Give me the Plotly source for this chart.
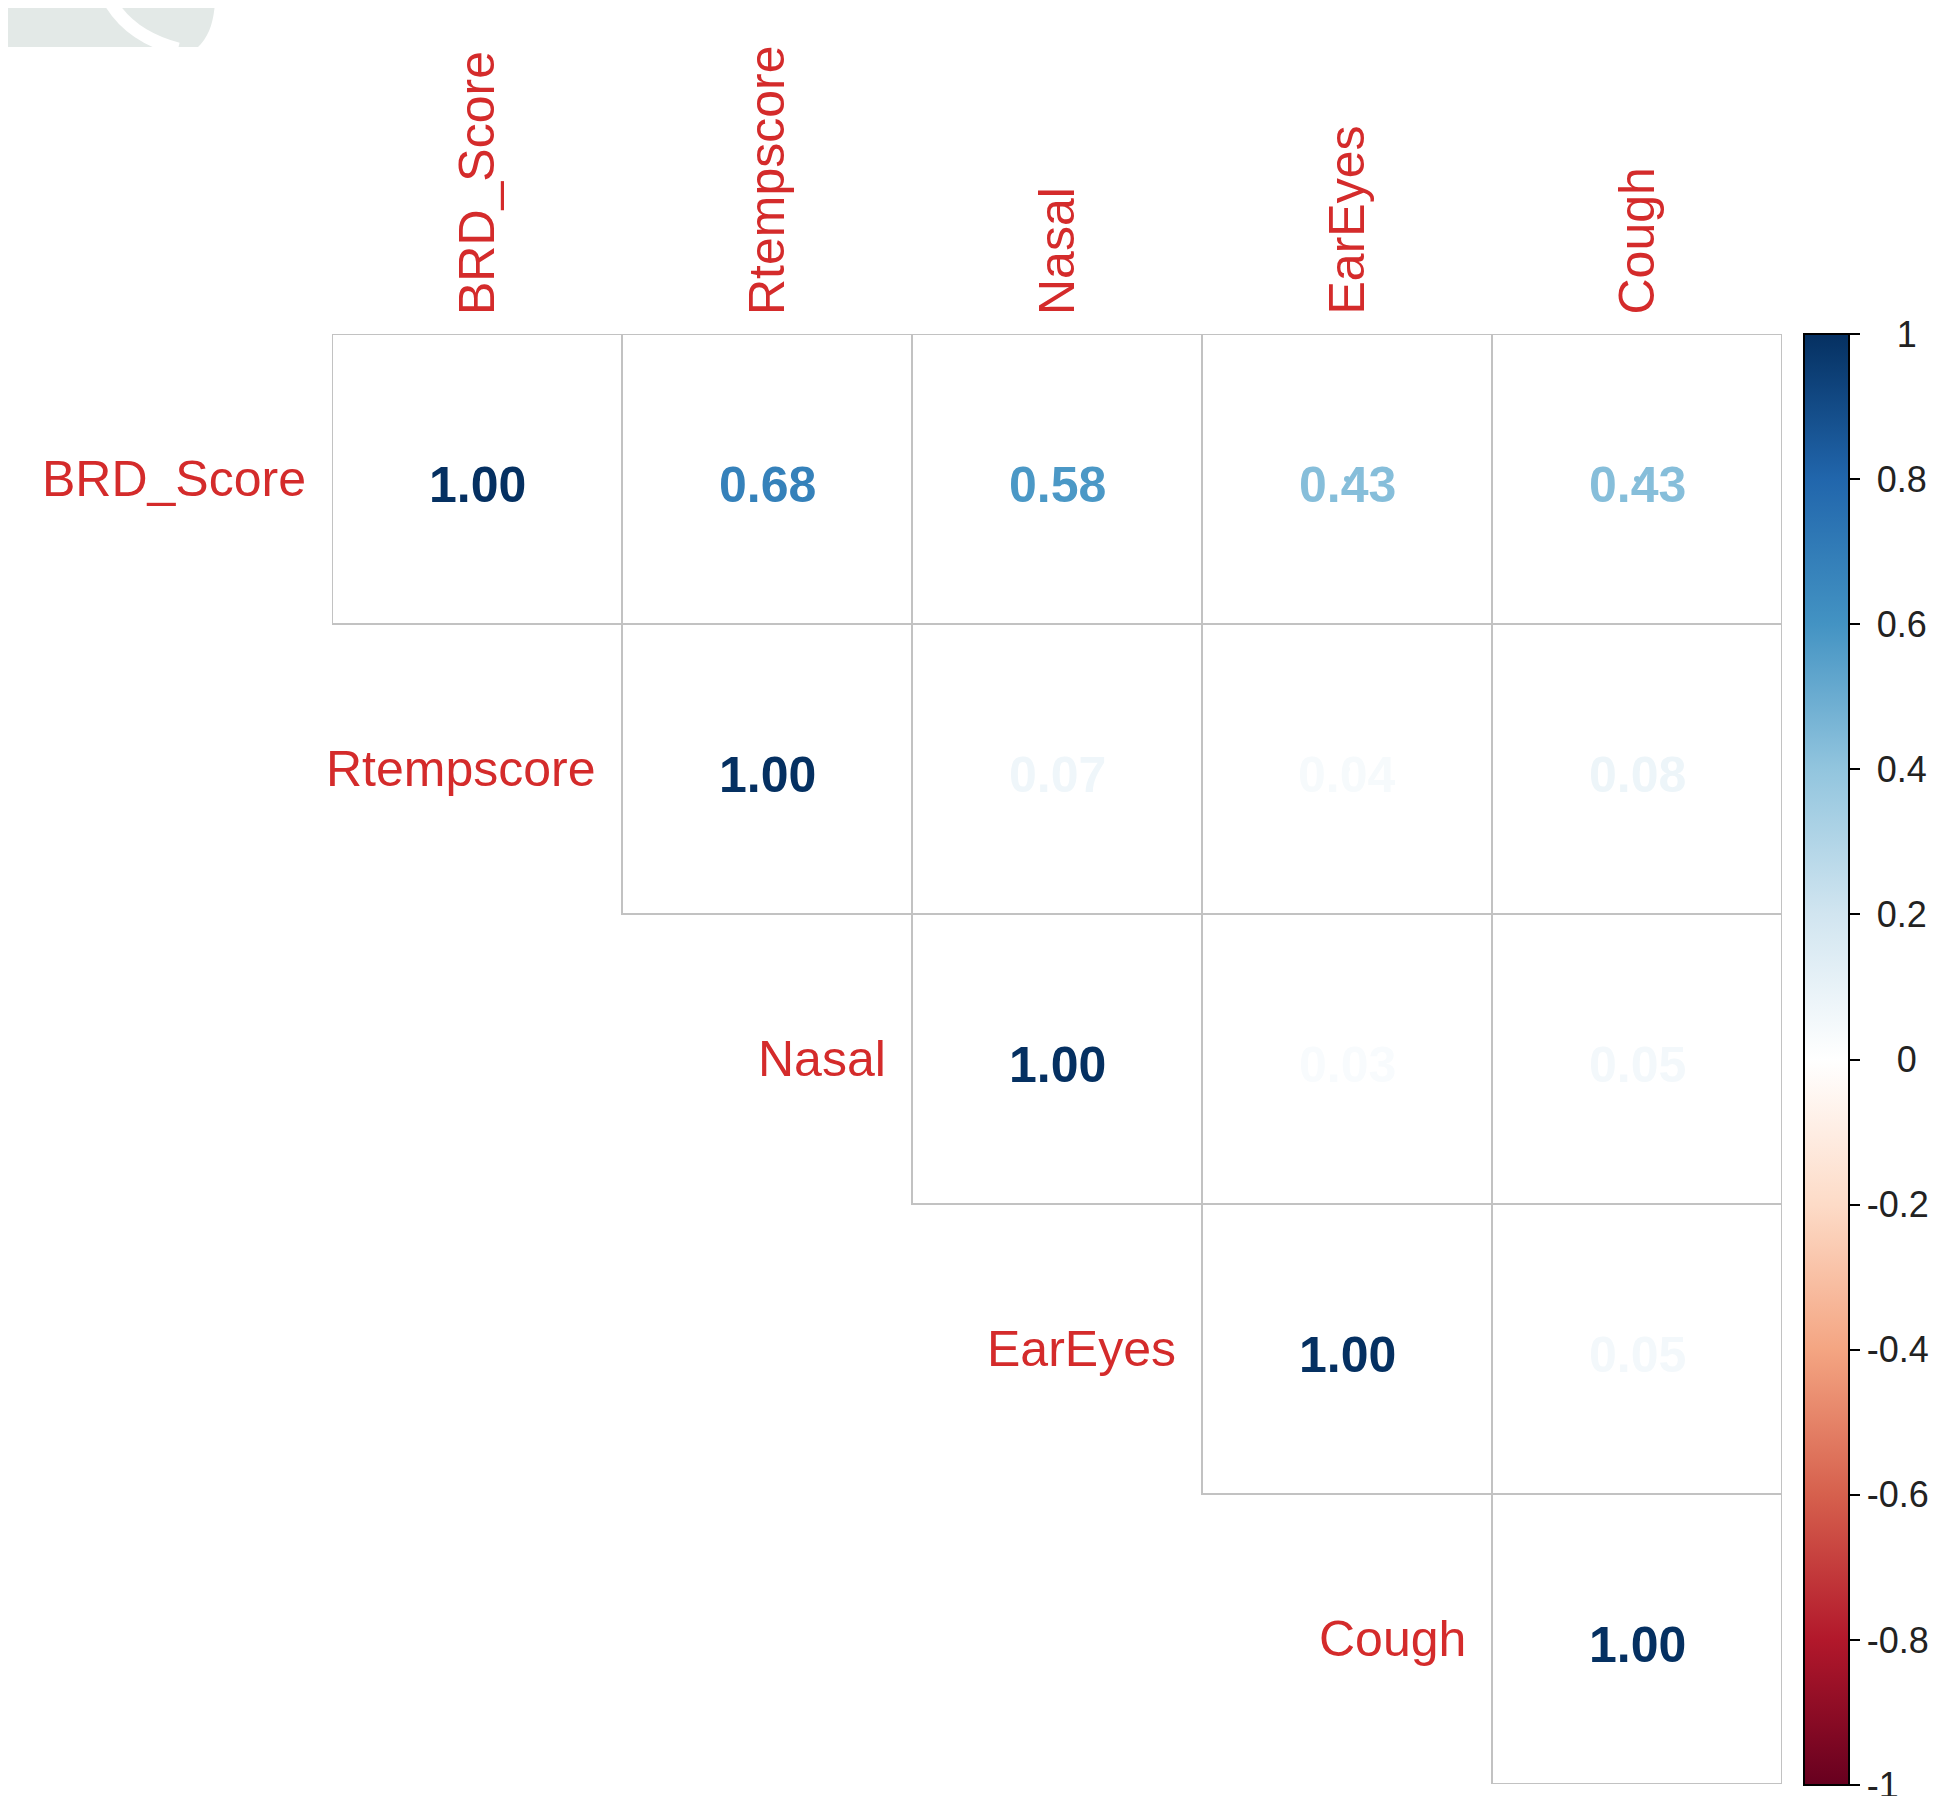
import plotly.graph_objects as go
from plotly.colors import sample_colorscale

# ---------------- data ----------------
variables = ["BRD_Score", "Rtempscore", "Nasal", "EarEyes", "Cough"]
brd_row = [1.00, 0.68, 0.58, 0.43, 0.43]
rtemp_row = [0.68, 1.00, 0.07, 0.04, 0.08]
nasal_row = [0.58, 0.07, 1.00, 0.03, 0.05]
eareyes_row = [0.43, 0.04, 0.03, 1.00, 0.05]
cough_row = [0.43, 0.08, 0.05, 0.05, 1.00]
corr = [brd_row, rtemp_row, nasal_row, eareyes_row, cough_row]

cbar_ticks = [1, 0.8, 0.6, 0.4, 0.2, 0, -0.2, -0.4, -0.6, -0.8, -1]

# corrplot COL2('RdBu')
rdbu_cols = ["#67001F", "#B2182B", "#D6604D", "#F4A582", "#FDDBC7", "#FFFFFF",
             "#D1E5F0", "#92C5DE", "#4393C3", "#2166AC", "#053061"]
colorscale = [[k / (len(rdbu_cols) - 1), c] for k, c in enumerate(rdbu_cols)]

# ---------------- layout constants (page pixels) ----------------
PAGE_W, PAGE_H = 1951, 1804
OFF = 8                      # default body margin of the html page
W, H = PAGE_W - 2 * OFF, PAGE_H - 2 * OFF
GRID_L, GRID_R, GRID_T, GRID_B = 332, 1782, 334, 1784
CB_L, CB_R, CB_T, CB_B = 1804, 1849, 334, 1785
FONT = "Liberation Sans, Arial, sans-serif"
LABEL_RED = "#d42b2b"
n = len(variables)


def px(x):
    return (x - OFF) / W


def py(y):
    return 1 - (y - OFF) / H


# upper triangle cells
xs, ys, texts, tcolors, vals = [], [], [], [], []
for i in range(n):
    for j in range(i, n):
        v = corr[i][j]
        xs.append(j)
        ys.append(i)
        texts.append(f"{v:.2f}")
        vals.append(v)
        tcolors.append(sample_colorscale(colorscale, [(v + 1) / 2])[0])

fig = go.Figure()


def fmt_tick(t):
    s = f"{t:g}"
    if s in ("0", "1"):
        return "\u00a0\u2007" + s
    if t > 0:
        return "\u00a0" + s
    return s


# invisible marker trace carrying the colour bar
fig.add_trace(go.Scatter(
    x=xs, y=ys, mode="markers",
    marker=dict(size=0, color=vals, colorscale=colorscale, cmin=-1, cmax=1,
                showscale=True,
                colorbar=dict(
                    x=px(CB_L), xanchor="left", xpad=0,
                    y=(py(CB_T) + py(CB_B)) / 2, yanchor="middle", ypad=0,
                    len=(CB_B - CB_T) / H, lenmode="fraction",
                    thickness=CB_R - CB_L, thicknessmode="pixels",
                    outlinecolor="black", outlinewidth=2,
                    tickmode="array", tickvals=cbar_ticks,
                    ticktext=[fmt_tick(t) for t in cbar_ticks],
                    ticks="outside", ticklen=10, tickwidth=2, tickcolor="black",
                    ticklabeloverflow="allow",
                    tickfont=dict(family=FONT, size=36, color="#222222"),
                )),
    hoverinfo="skip", showlegend=False,
))

shapes = []
for i in range(n):
    for j in range(i, n):
        shapes.append(dict(type="rect", xref="x", yref="y",
                           x0=j - 0.5, x1=j + 0.5, y0=i - 0.5, y1=i + 0.5,
                           line=dict(color="#c2c2c2", width=2), fillcolor="rgba(0,0,0,0)"))

# decorative grey blob in the top-left corner of the screenshot
shapes.append(dict(type="path", xref="paper", yref="paper",
                   path=f"M {px(0)},{py(0)} L {px(215)},{py(0)} Q {px(214)},{py(32)} {px(198)},{py(47)} "
                        f"L {px(0)},{py(47)} Z",
                   fillcolor="#e3e9e7", line=dict(width=0), layer="below"))
shapes.append(dict(type="path", xref="paper", yref="paper",
                   path=f"M {px(108)},{py(-2)} Q {px(128)},{py(36)} {px(178)},{py(49)}",
                   line=dict(color="white", width=13), layer="below"))

annotations = []
# correlation numbers
for x, y, t, c in zip(xs, ys, texts, tcolors):
    annotations.append(dict(x=x, y=y, xref="x", yref="y", text=f"<b>{t}</b>", showarrow=False,
                            xanchor="center", yanchor="middle", yshift=-6,
                            font=dict(family=FONT, size=50, color=c)))
# variable labels
for k, name in enumerate(variables):
    annotations.append(dict(x=k, y=-0.5, xref="x", yref="y", text=name, showarrow=False,
                            textangle=-90, xanchor="center", yanchor="bottom", yshift=17,
                            font=dict(family=FONT, size=50, color=LABEL_RED)))
    annotations.append(dict(x=k - 0.5, y=k, xref="x", yref="y", text=name, showarrow=False,
                            xanchor="right", yanchor="middle", xshift=-24,
                            font=dict(family=FONT, size=50, color=LABEL_RED)))

fig.update_layout(
    width=W, height=H, autosize=False,
    margin=dict(l=0, r=0, t=0, b=0),
    paper_bgcolor="white", plot_bgcolor="white",
    xaxis=dict(domain=[px(GRID_L), px(GRID_R)], range=[-0.5, n - 0.5], visible=False,
               showgrid=False, zeroline=False, fixedrange=True),
    yaxis=dict(domain=[py(GRID_B), py(GRID_T)], range=[n - 0.5, -0.5], visible=False,
               showgrid=False, zeroline=False, fixedrange=True),
    shapes=shapes, annotations=annotations,
)

fig.write_html("out.html")
